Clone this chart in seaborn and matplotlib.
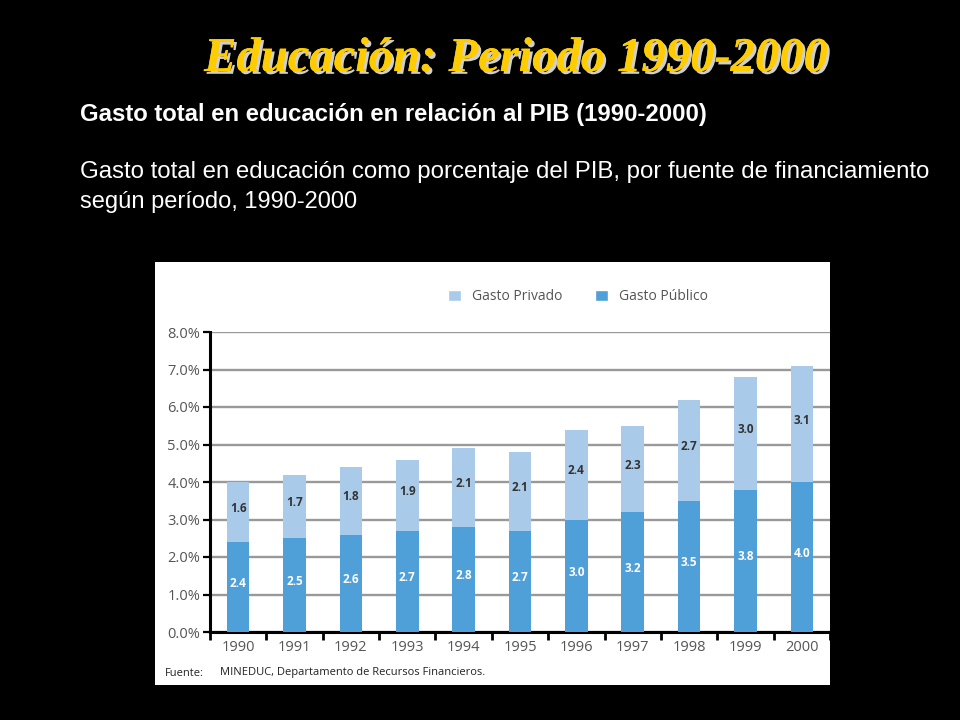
import numpy as np
import pandas as pd
import matplotlib
matplotlib.use("Agg")
import matplotlib.pyplot as plt
import matplotlib.patheffects as pe
from matplotlib.patches import Rectangle, Patch
from matplotlib.ticker import FuncFormatter, FixedLocator
import seaborn as sns

years = ["1990", "1991", "1992", "1993", "1994", "1995",
         "1996", "1997", "1998", "1999", "2000"]
publico = [2.4, 2.5, 2.6, 2.7, 2.8, 2.7, 3.0, 3.2, 3.5, 3.8, 4.0]
privado = [1.6, 1.7, 1.8, 1.9, 2.1, 2.1, 2.4, 2.3, 2.7, 3.0, 3.1]

c_priv = "#a9cbe9"
c_pub = "#4f9fd9"

df = pd.DataFrame({"year": years, "publico": publico, "privado": privado})
df["total"] = df["publico"] + df["privado"]

sns.set_theme(style="white")
plt.rcParams["font.family"] = ["Open Sans", "DejaVu Sans"]

fig = plt.figure(figsize=(9.6, 7.2), dpi=100, facecolor="black")

# white panel behind the chart
fig.patches.append(Rectangle((155 / 960, 35 / 720), 675 / 960, 423 / 720,
                             transform=fig.transFigure, facecolor="white",
                             edgecolor="none", zorder=-5))

# title and headings
fig.text(0.538, 0.918, "Educación: Periodo 1990-2000", color="#ffcc00",
         fontsize=35, fontweight="bold", style="italic",
         family=["Liberation Serif", "DejaVu Serif"], ha="center", va="center",
         path_effects=[pe.withSimplePatchShadow(offset=(2, -2), shadow_rgbFace="#cfcfcf", alpha=1),
                       pe.Normal()])
sans = ["Liberation Sans", "DejaVu Sans"]
fig.text(80 / 960, 1 - 115 / 720, "Gasto total en educación en relación al PIB (1990-2000)",
         color="white", fontsize=17.2, fontweight="bold", family=sans,
         ha="left", va="center")
fig.text(80 / 960, 1 - 172 / 720,
         "Gasto total en educación como porcentaje del PIB, por fuente de financiamiento",
         color="white", fontsize=17.3, family=sans, ha="left", va="center")
fig.text(80 / 960, 1 - 202 / 720, "según período, 1990-2000",
         color="white", fontsize=17, family=sans, ha="left", va="center")

ax = fig.add_axes([210 / 960, 88 / 720, 620 / 960, 300 / 720])
ax.set_facecolor("white")

sns.barplot(data=df, x="year", y="total", color=c_priv, width=0.4,
            saturation=1, linewidth=0, ax=ax, zorder=3)
sns.barplot(data=df, x="year", y="publico", color=c_pub, width=0.4,
            saturation=1, linewidth=0, ax=ax, zorder=3)

# segment values
for i, (pu, pr) in enumerate(zip(publico, privado)):
    ax.text(i, pu / 2 + 0.1, f"{pu:.1f}", ha="center", va="center",
            color="white", fontsize=8.5, fontweight="bold", zorder=4)
    ax.text(i, pu + pr / 2 + 0.1, f"{pr:.1f}", ha="center", va="center",
            color="#333333", fontsize=8.5, fontweight="bold", zorder=4)

ax.set_xlim(-0.5, len(years) - 0.5)
ax.set_ylim(0, 8)
ax.set_yticks(np.arange(0, 9, 1))
ax.yaxis.set_major_formatter(FuncFormatter(lambda v, p: f"{v:.1f}%"))
ax.grid(axis="y", color="#999999", linewidth=1.7, zorder=0)
ax.set_axisbelow(True)
ax.set_xlabel("")
ax.set_ylabel("")

ax.xaxis.set_minor_locator(FixedLocator(np.arange(-0.5, len(years), 1)))
ax.tick_params(axis="x", which="major", length=0, labelsize=10.5,
               labelcolor="#555555", pad=6)
ax.tick_params(axis="x", which="minor", length=6, width=2, color="black",
               direction="out", bottom=True)
ax.tick_params(axis="y", length=5, width=1.6, color="black", direction="out",
               left=True, labelsize=10.5, labelcolor="#555555", pad=2)

for s in ["top", "right"]:
    ax.spines[s].set_visible(False)
for s in ["left", "bottom"]:
    ax.spines[s].set_color("black")
    ax.spines[s].set_linewidth(2.2)

handles = [Patch(facecolor=c_priv, label="Gasto Privado"),
           Patch(facecolor=c_pub, label="Gasto Público")]
fig.legend(handles=handles, loc="center", bbox_to_anchor=(578 / 960, 1 - 297 / 720),
           ncol=2, frameon=False, fontsize=10, handlelength=0.9, handleheight=0.9,
           columnspacing=2.4, handletextpad=0.8, labelcolor="#555555")

fig.text(165 / 960, 1 - 673 / 720, "Fuente:", fontsize=8, color="#222222",
         ha="left", va="center")
fig.text(220 / 960, 1 - 673 / 720, "MINEDUC, Departamento de Recursos Financieros.",
         fontsize=8, color="#222222", ha="left", va="center")

fig.savefig("out.png", dpi=100, facecolor="black")
